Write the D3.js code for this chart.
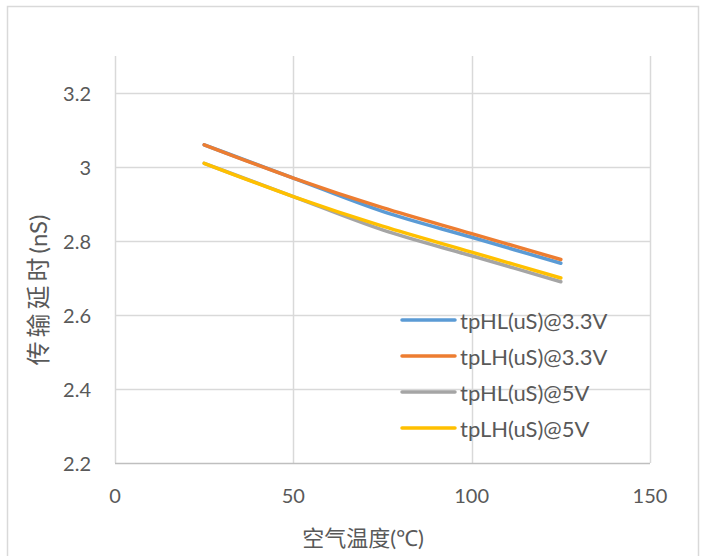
<!DOCTYPE html>
<html>
<head>
<meta charset="utf-8">
<script src="https://cdn.jsdelivr.net/npm/d3@7"></script>
<style>
  html, body { margin: 0; padding: 0; background: #ffffff; }
  svg { display: block; }
  text { font-family: Lato, "Noto Sans", "Noto Sans CJK SC", sans-serif; fill: #595959; }
</style>
</head>
<body>
<svg id="chart" width="707" height="556"></svg>
<script>
const temps = [25, 50, 75, 100, 125];
const seriesNames = ["tpHL(uS)@3.3V", "tpLH(uS)@3.3V", "tpHL(uS)@5V", "tpLH(uS)@5V"];
const tpHL33 = [3.06, 2.97, 2.88, 2.81, 2.74];
const tpLH33 = [3.06, 2.97, 2.89, 2.82, 2.75];
const tpHL5 = [3.01, 2.92, 2.83, 2.76, 2.69];
const tpLH5 = [3.01, 2.92, 2.84, 2.77, 2.70];
const seriesColors = ["#5B9BD5", "#ED7D31", "#A5A5A5", "#FFC000"];
const xTicks = [0, 50, 100, 150];
const yTicks = [2.2, 2.4, 2.6, 2.8, 3.0, 3.2];
const xTitle = "空气温度(℃)";
const yTitleCJK = "传输延时";
const yTitleUnit = "(nS)";

const seriesValues = [tpHL33, tpLH33, tpHL5, tpLH5];
const svg = d3.select("#chart");

// chart border
svg.append("rect")
  .attr("x", 7.5).attr("y", 6.5).attr("width", 691).attr("height", 560)
  .attr("fill", "#ffffff").attr("stroke", "#d9d9d9").attr("stroke-width", 1.5);

const x = d3.scaleLinear().domain([0, 150]).range([115, 650]);
const y = d3.scaleLinear().domain([2.2, 3.3]).range([463, 56]);

// horizontal gridlines
svg.append("g").selectAll("line").data(yTicks.filter(d => d > 2.2)).join("line")
  .attr("x1", x(0)).attr("x2", x(150))
  .attr("y1", d => Math.round(y(d)) + 0.5).attr("y2", d => Math.round(y(d)) + 0.5)
  .attr("stroke", "#d9d9d9").attr("stroke-width", 1.5);

// vertical gridlines
svg.append("g").selectAll("line").data(xTicks).join("line")
  .attr("x1", d => Math.round(x(d)) + 0.5).attr("x2", d => Math.round(x(d)) + 0.5)
  .attr("y1", y(3.3)).attr("y2", y(2.2))
  .attr("stroke", "#d9d9d9").attr("stroke-width", 1.5);

// bottom axis line
svg.append("line")
  .attr("x1", x(0)).attr("x2", x(150))
  .attr("y1", Math.round(y(2.2)) + 0.5).attr("y2", Math.round(y(2.2)) + 0.5)
  .attr("stroke", "#bfbfbf").attr("stroke-width", 1.5);

// y tick labels
svg.append("g").selectAll("text").data(yTicks).join("text")
  .attr("x", 91).attr("y", d => y(d))
  .attr("text-anchor", "end").attr("dominant-baseline", "central")
  .style("font-size", "20px")
  .text(d => d3.format("~g")(d));

// x tick labels
svg.append("g").selectAll("text").data(xTicks).join("text")
  .attr("x", d => x(d)).attr("y", 495)
  .attr("text-anchor", "middle").attr("dominant-baseline", "central")
  .style("font-size", "20px")
  .text(d => d);

// axis titles
svg.append("text")
  .attr("x", 363).attr("y", 537)
  .attr("text-anchor", "middle").attr("dominant-baseline", "central")
  .style("font-size", "22px")
  .text(xTitle);

const yt = svg.append("text")
  .attr("transform", "translate(37,290) rotate(-90)")
  .attr("text-anchor", "middle").attr("dominant-baseline", "central")
  .style("font-size", "24px");
yt.append("tspan").style("letter-spacing", "4px").text(yTitleCJK);
yt.append("tspan").text(yTitleUnit);

// series lines
const line = d3.line()
  .x((d, i) => x(temps[i]))
  .y(d => y(d))
  .curve(d3.curveMonotoneX);

svg.append("g").selectAll("path").data(seriesValues).join("path")
  .attr("d", d => line(d))
  .attr("fill", "none")
  .attr("stroke", (d, i) => seriesColors[i])
  .attr("stroke-width", 3.5)
  .attr("stroke-linecap", "round")
  .attr("stroke-linejoin", "round");

// legend
const legend = svg.append("g").selectAll("g").data(seriesNames).join("g")
  .attr("transform", (d, i) => `translate(0, ${320 + i * 36})`);
legend.append("line")
  .attr("x1", 402).attr("x2", 455).attr("y1", 0).attr("y2", 0)
  .attr("stroke", (d, i) => seriesColors[i])
  .attr("stroke-width", 3.5).attr("stroke-linecap", "round");
legend.append("text")
  .attr("x", 460).attr("y", 0)
  .attr("dominant-baseline", "central")
  .style("font-size", "22px")
  .text(d => d);
</script>
</body>
</html>
